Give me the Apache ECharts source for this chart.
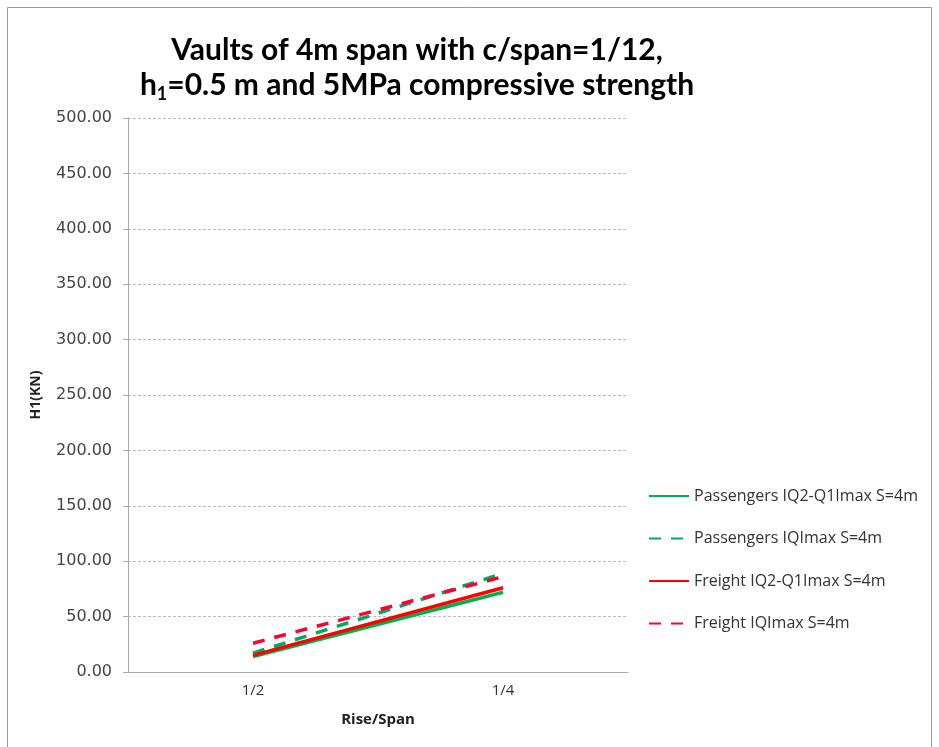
<!DOCTYPE html>
<html><head><meta charset="utf-8">
<script src="https://cdn.jsdelivr.net/npm/echarts@6/dist/echarts.min.js"></script>
<style>html,body{margin:0;padding:0;background:#fff}#c{width:939px;height:747px}</style>
</head><body><div id="c"></div>
<script>
const categories = ['1/2', '1/4'];
const passengersQ2Q1 = [14, 72];
const passengersQmax = [17, 89];
const freightQ2Q1 = [15, 76];
const freightQmax = [26, 86];
const seriesNames = ['Passengers IQ2-Q1Imax S=4m', 'Passengers IQImax S=4m', 'Freight IQ2-Q1Imax S=4m', 'Freight IQImax S=4m'];

const chart = echarts.init(document.getElementById('c'));
const FONT = 'Lato, "Open Sans", sans-serif';
function mk(name, data, color, dashed) {
  return {
    name, type: 'line', data, symbol: 'none',
    lineStyle: { color, width: 3.5, type: dashed ? [12, 10] : 'solid' },
    itemStyle: { color }
  };
}
chart.setOption({
  animation: false,
  title: {
    text: '{t|Vaults of 4m span with c/span=1/12,}\n{t|h}{s|1}{t|=0.5 m and 5MPa compressive strength}',
    left: 412, top: 28, textAlign: 'center',
    textStyle: {
      rich: {
        t: { fontFamily: FONT, fontWeight: 'bold', fontSize: 30, color: '#000', lineHeight: 35 },
        s: { fontFamily: FONT, fontWeight: 'bold', fontSize: 18, color: '#000', verticalAlign: 'bottom', lineHeight: 22, padding: [16, 0, 0, 0] }
      }
    }
  },
  graphic: [{ type: 'rect', shape: { x: 7.5, y: 7.5, width: 924, height: 745 }, style: { fill: 'none', stroke: '#9a9a9a', lineWidth: 1 } }],
  grid: { left: 128, right: 311, top: 118, bottom: 75 },
  legend: {
    orient: 'vertical', left: 643, top: 483, itemGap: 26.5, itemWidth: 40, itemHeight: 18,
    data: seriesNames,
    itemStyle: { opacity: 0 },
    textStyle: { fontFamily: '"Open Sans", sans-serif', fontSize: 16, color: '#333' }
  },
  xAxis: {
    type: 'category', data: categories, boundaryGap: true,
    name: 'Rise/Span', nameLocation: 'middle', nameGap: 40,
    nameTextStyle: { fontFamily: '"Open Sans", sans-serif', fontWeight: 'bold', fontSize: 15, color: '#222' },
    axisLine: { lineStyle: { color: '#aaa', width: 1 } },
    axisTick: { show: false },
    axisLabel: { fontFamily: '"Open Sans", sans-serif', fontSize: 15, color: '#333', margin: 11 }
  },
  yAxis: {
    type: 'value', min: 0, max: 500, interval: 50,
    name: 'H1(KN)', nameLocation: 'middle', nameGap: 85, nameRotate: 90,
    nameTextStyle: { fontFamily: '"Open Sans", sans-serif', fontWeight: 'bold', fontSize: 14, color: '#222' },
    axisLine: { show: true, lineStyle: { color: '#aaa', width: 1 } },
    axisTick: { show: true, length: 5, lineStyle: { color: '#aaa' } },
    axisLabel: { fontFamily: '"DejaVu Sans", sans-serif', fontSize: 16, color: '#444', margin: 16, formatter: v => v.toFixed(2) },
    splitLine: { lineStyle: { color: '#bbb', type: [3, 2], width: 1 } }
  },
  series: [
    mk(seriesNames[0], passengersQ2Q1, '#00b050', false),
    mk(seriesNames[1], passengersQmax, '#00a860', true),
    mk(seriesNames[2], freightQ2Q1, '#ff0000', false),
    mk(seriesNames[3], freightQmax, '#ff0033', true)
  ]
});
</script></body></html>
